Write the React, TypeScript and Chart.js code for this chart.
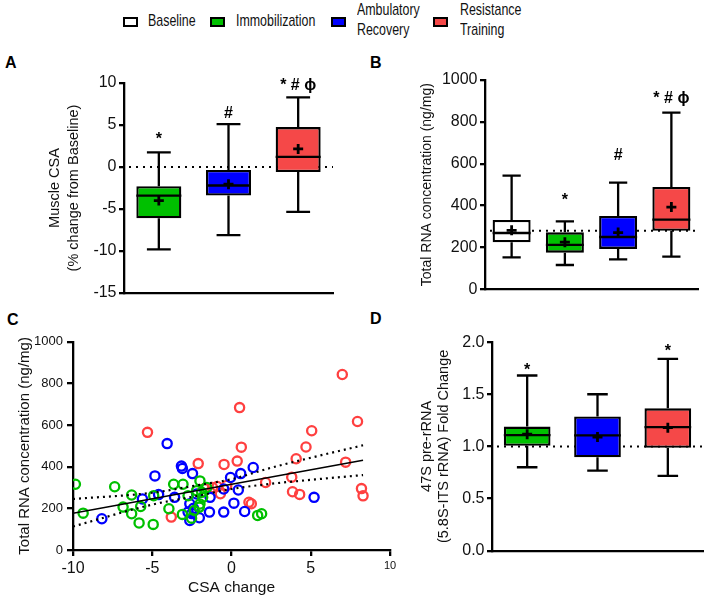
import React, { useEffect, useRef } from "react";
import { Chart, registerables } from "chart.js";
Chart.register(...registerables);

const FONT = "'Liberation Sans', Arial, Helvetica, 'DejaVu Sans', sans-serif";
const INK = "#000";
const TXT = "#111";

// ---------- Panel A: Muscle CSA (% change from Baseline)
const groupsA = ["Immobilization", "Ambulatory Recovery", "Resistance Training"];
const colorsA = ["#00C000", "#0000FF", "#F54848"];
const aMin = [-9.8, -8.1, -5.35];
const aQ1 = [-6.1, -3.4, -0.6];
const aMed = [-3.4, -2.2, 1.2];
const aQ3 = [-2.3, -0.35, 4.75];
const aMax = [1.75, 5.1, 8.3];
const aMean = [-4.0, -2.05, 2.15];
const aMarks = ["*", "#", "* # \u03D5"];
const aMarkY = [3.7, 6.6, 9.75];
const aRef = 0;

// ---------- Panel B: Total RNA concentration (ng/mg)
const groupsB = ["Baseline", "Immobilization", "Ambulatory Recovery", "Resistance Training"];
const colorsB = ["#FFFFFF", "#00C000", "#0000FF", "#F54848"];
const bMin = [153, 116, 143, 156];
const bQ1 = [225, 175, 193, 280];
const bMed = [269, 212, 250, 333];
const bQ3 = [331, 272, 350, 489];
const bMax = [543, 325, 510, 844];
const bMean = [282, 225, 271, 393];
const bMarks = ["", "*", "#", "* # \u03D5"];
const bMarkY = [0, 442, 646, 912];
const bRef = 280;

// ---------- Panel D: 47S pre-rRNA fold change
const groupsD = ["Immobilization", "Ambulatory Recovery", "Resistance Training"];
const colorsD = ["#00C000", "#0000FF", "#F54848"];
const dMin = [0.8, 0.768, 0.717];
const dQ1 = [1.006, 0.895, 0.987];
const dMed = [1.108, 1.105, 1.184];
const dQ3 = [1.19, 1.286, 1.365];
const dMax = [1.68, 1.5, 1.84];
const dMean = [1.117, 1.09, 1.18];
const dMarks = ["*", "", "*"];
const dMarkY = [1.764, 0, 1.947];
const dRef = 1.0;

// ---------- Panel C: scatter, CSA change vs total RNA
const redX = [-5.3, 0.51, 0.62, 0.36, -0.47, -2.1, 6.99, 7.95, 5.06, 4.7, 4.08, 3.8, 7.2, 3.85, 4.3, 2.15, 1.1, 1.25, 8.2, 8.3, -3.8, -0.7, -1.2, -0.3, -1.7, -0.9];
const redY = [565, 684, 494, 427, 411, 415, 843, 617, 573, 495, 438, 350, 422, 280, 267, 324, 229, 222, 295, 260, 158, 270, 300, 310, 295, 305];
const blueX = [-8.18, -4.06, -3.16, -3.1, -2.46, -4.83, -4.6, -5.62, -3.59, -2.63, -2.74, -2.63, -2.03, -1.39, -0.49, 0.83, 0.15, -0.49, -0.06, 0.58, 0.43, 1.37, 5.21, -1.35, -2.2, -2.4, -2.5];
const blueY = [150, 511, 403, 392, 367, 356, 266, 245, 253, 222, 182, 142, 155, 182, 182, 185, 225, 293, 348, 367, 288, 396, 253, 253, 269, 200, 175];
const greenX = [-9.85, -9.36, -7.37, -6.84, -6.3, -6.3, -5.83, -5.73, -4.94, -4.91, -3.95, -3.65, -3.06, -3.1, -2.52, -1.99, -1.88, -1.99, -2.03, -1.82, -1.56, -2.35, 1.65, 1.9, -2.74, -2.2];
const greenY = [316, 177, 304, 206, 264, 174, 130, 209, 123, 261, 198, 316, 316, 171, 153, 332, 277, 221, 206, 253, 300, 190, 166, 174, 261, 285];
const fitX = [-10, 8.3];
const fitY = [177, 431];
const ciX = [-10, -5, -2, 0, 2.5, 5, 8.3];
const ciUpper = [245, 275, 313, 340, 395, 443, 503];
const ciLower = [113, 218, 262, 293, 318, 337, 360];

type BoxP = {
  labels: string[]; colors: string[];
  min: number[]; q1: number[]; med: number[]; q3: number[]; max: number[]; mean: number[];
  marks: string[]; markY: number[]; ref: number; capFrac: number;
};

function makeBoxPlugin(p: BoxP) {
  return {
    id: "boxExtra",
    beforeDatasetsDraw(chart: any) {
      const { ctx, chartArea } = chart;
      const y = chart.scales.y.getPixelForValue(p.ref);
      ctx.save();
      ctx.strokeStyle = INK;
      ctx.lineWidth = 2;
      ctx.setLineDash([2, 5]);
      ctx.beginPath();
      ctx.moveTo(chartArea.left + 5, y);
      ctx.lineTo(chartArea.right, y);
      ctx.stroke();
      ctx.restore();
    },
    afterDatasetsDraw(chart: any) {
      const { ctx } = chart;
      const xs = chart.scales.x;
      const ys = chart.scales.y;
      const meta = chart.getDatasetMeta(0);
      const py = (v: number) => ys.getPixelForValue(v);
      ctx.save();
      ctx.strokeStyle = INK;
      ctx.fillStyle = INK;
      p.labels.forEach((_, i) => {
        const x = xs.getPixelForValue(i);
        const w = meta.data[i].width;
        const cap = (w * p.capFrac) / 2;
        ctx.setLineDash([]);
        ctx.lineWidth = 2.3;
        ctx.beginPath();
        ctx.moveTo(x, py(p.q3[i]));
        ctx.lineTo(x, py(p.max[i]));
        ctx.moveTo(x - cap, py(p.max[i]));
        ctx.lineTo(x + cap, py(p.max[i]));
        ctx.moveTo(x, py(p.q1[i]));
        ctx.lineTo(x, py(p.min[i]));
        ctx.moveTo(x - cap, py(p.min[i]));
        ctx.lineTo(x + cap, py(p.min[i]));
        ctx.moveTo(x - w / 2, py(p.med[i]));
        ctx.lineTo(x + w / 2, py(p.med[i]));
        ctx.stroke();
        const my = py(p.mean[i]);
        ctx.lineWidth = 2.8;
        ctx.beginPath();
        ctx.moveTo(x - 5, my);
        ctx.lineTo(x + 5, my);
        ctx.moveTo(x, my - 5);
        ctx.lineTo(x, my + 5);
        ctx.stroke();
        const t = p.marks[i];
        if (t) {
          ctx.font = `bold 16px ${FONT}`;
          ctx.textAlign = "center";
          ctx.textBaseline = "alphabetic";
          const m = ctx.measureText(t);
          const yc = py(p.markY[i]);
          const base = yc + (m.actualBoundingBoxAscent - m.actualBoundingBoxDescent) / 2;
          ctx.fillText(t, x, base);
        }
      });
      ctx.restore();
    },
  };
}

type BoxLayout = {
  yMin: number; yMax: number; step: number; yWidth: number; xHeight: number;
  padTop: number; padRight: number; barPct: number;
  title: string | string[]; titleSize: number; titleLH: number; titlePad: number;
  fmt?: (v: number) => string;
};

function boxConfig(p: BoxP, L: BoxLayout): any {
  return {
    type: "bar",
    data: {
      labels: p.labels,
      datasets: [
        {
          data: p.labels.map((_, i) => [p.q1[i], p.q3[i]]),
          backgroundColor: p.colors,
          borderColor: INK,
          borderWidth: 2.3,
          borderSkipped: false,
          barPercentage: L.barPct,
          categoryPercentage: 1,
        },
      ],
    },
    options: {
      responsive: false,
      animation: false,
      events: [],
      layout: { padding: { top: L.padTop, right: L.padRight, left: 0, bottom: 0 } },
      plugins: { legend: { display: false }, tooltip: { enabled: false } },
      scales: {
        x: {
          type: "category",
          offset: true,
          ticks: { display: false },
          grid: { display: false },
          border: { display: true, color: INK, width: 2.3 },
          afterFit: (s: any) => { s.height = L.xHeight; },
        },
        y: {
          min: L.yMin,
          max: L.yMax,
          ticks: {
            stepSize: L.step,
            color: TXT,
            padding: 2.5,
            font: { family: FONT, size: 16 },
            callback: (v: any) => (L.fmt ? L.fmt(Number(v)) : String(v)),
          },
          grid: { display: true, drawOnChartArea: false, drawTicks: true, tickLength: 5, lineWidth: 2.3, color: INK },
          border: { display: true, color: INK, width: 2.3 },
          title: {
            display: true,
            text: L.title,
            color: TXT,
            font: { family: FONT, size: L.titleSize, lineHeight: L.titleLH },
            padding: { top: L.titlePad, bottom: 0 },
          },
          afterFit: (s: any) => { s.width = L.yWidth; },
        },
      },
    },
    plugins: [makeBoxPlugin(p)],
  };
}

function scatterConfig(): any {
  const pts = (xs: number[], ys: number[]) => xs.map((x, i) => ({ x, y: ys[i] }));
  const circ = (color: string, data: any[]) => ({
    data,
    showLine: false,
    pointStyle: "circle",
    pointRadius: 4.6,
    pointBorderWidth: 2.3,
    pointBackgroundColor: "rgba(0,0,0,0)",
    pointBorderColor: color,
    borderColor: color,
  });
  const line = (data: any[], dash: number[], width: number) => ({
    data,
    showLine: true,
    pointRadius: 0,
    borderColor: INK,
    borderWidth: width,
    borderDash: dash,
    tension: 0.4,
    cubicInterpolationMode: "monotone",
    fill: false,
  });
  return {
    type: "scatter",
    data: {
      datasets: [
        line(pts(fitX, fitY), [], 1.5),
        line(pts(ciX, ciUpper), [2, 4], 2.2),
        line(pts(ciX, ciLower), [2, 4], 2.2),
        circ("#00C000", pts(greenX, greenY)),
        circ("#0000FF", pts(blueX, blueY)),
        circ("#FF4040", pts(redX, redY)),
      ],
    },
    options: {
      responsive: false,
      animation: false,
      events: [],
      layout: { padding: { top: 9, right: 10, left: 0, bottom: 0 } },
      plugins: { legend: { display: false }, tooltip: { enabled: false } },
      scales: {
        x: {
          type: "linear",
          min: -10,
          max: 10,
          ticks: {
            stepSize: 5,
            color: TXT,
            padding: 3,
            callback: (v: any) => String(v),
            font: (c: any) => ({ family: FONT, size: c.tick && c.tick.value === 10 ? 11 : 16 }),
          },
          grid: { display: true, drawOnChartArea: false, drawTicks: true, tickLength: 6, lineWidth: 2.3, color: INK },
          border: { display: true, color: INK, width: 2.3 },
          title: {
            display: true,
            text: "CSA change",
            color: TXT,
            font: { family: FONT, size: 15.5, lineHeight: 1.2 },
            padding: { top: 0, bottom: 3 },
          },
          afterFit: (s: any) => { s.height = 50; },
        },
        y: {
          min: 0,
          max: 1000,
          ticks: { stepSize: 200, color: TXT, padding: 4, callback: (v: any) => String(v), font: { family: FONT, size: 13 } },
          grid: { display: true, drawOnChartArea: false, drawTicks: true, tickLength: 6, lineWidth: 2.3, color: INK },
          border: { display: true, color: INK, width: 2.3 },
          title: {
            display: true,
            text: "Total RNA concentration (ng/mg)",
            color: TXT,
            font: { family: FONT, size: 15, lineHeight: 1.2 },
            padding: { top: 16, bottom: 0 },
          },
          afterFit: (s: any) => { s.width = 73; },
        },
      },
    },
  };
}

function ChartBox(props: { left: number; top: number; width: number; height: number; make: () => any }) {
  const ref = useRef<HTMLCanvasElement>(null);
  useEffect(() => {
    const chart = new Chart(ref.current as HTMLCanvasElement, props.make());
    return () => chart.destroy();
  }, []);
  return (
    <canvas
      ref={ref}
      width={props.width}
      height={props.height}
      style={{ position: "absolute", left: props.left, top: props.top, width: props.width, height: props.height }}
    />
  );
}

const legendText: React.CSSProperties = {
  position: "absolute",
  fontFamily: FONT,
  fontSize: 17,
  lineHeight: "19.5px",
  color: TXT,
  transform: "scaleX(0.73)",
  transformOrigin: "left top",
  whiteSpace: "nowrap",
};

function Swatch(props: { left: number; color: string }) {
  return (
    <div
      style={{
        position: "absolute",
        left: props.left,
        top: 17,
        width: 15,
        height: 10,
        boxSizing: "border-box",
        border: "2px solid #000",
        background: props.color,
      }}
    />
  );
}

const letter = (t: string, left: number, top: number) => (
  <div
    style={{ position: "absolute", left, top, fontFamily: FONT, fontWeight: "bold", fontSize: 16, lineHeight: "18px", color: INK }}
  >
    {t}
  </div>
);

export default function App() {
  const pA: BoxP = { labels: groupsA, colors: colorsA, min: aMin, q1: aQ1, med: aMed, q3: aQ3, max: aMax, mean: aMean, marks: aMarks, markY: aMarkY, ref: aRef, capFrac: 0.53 };
  const pB: BoxP = { labels: groupsB, colors: colorsB, min: bMin, q1: bQ1, med: bMed, q3: bQ3, max: bMax, mean: bMean, marks: bMarks, markY: bMarkY, ref: bRef, capFrac: 0.48 };
  const pD: BoxP = { labels: groupsD, colors: colorsD, min: dMin, q1: dQ1, med: dMed, q3: dQ3, max: dMax, mean: dMean, marks: dMarks, markY: dMarkY, ref: dRef, capFrac: 0.44 };
  return (
    <div style={{ position: "absolute", left: 0, top: 0, width: 709, height: 600, background: "#fff", overflow: "hidden" }}>
      <Swatch left={123} color="#FFFFFF" />
      <div style={{ ...legendText, left: 148, top: 11 }}>Baseline</div>
      <Swatch left={210} color="#00C000" />
      <div style={{ ...legendText, left: 236, top: 11 }}>Immobilization</div>
      <Swatch left={331} color="#0000FF" />
      <div style={{ ...legendText, left: 357, top: 0 }}>Ambulatory<br />Recovery</div>
      <Swatch left={433} color="#F54848" />
      <div style={{ ...legendText, left: 460, top: 0 }}>Resistance<br />Training</div>

      {letter("A", 5, 54)}
      {letter("B", 370, 54)}
      {letter("C", 7, 311)}
      {letter("D", 370, 310)}

      <ChartBox
        left={0} top={55} width={350} height={260}
        make={() => boxConfig(pA, { yMin: -15, yMax: 10, step: 5, yWidth: 124, xHeight: 22, padTop: 28, padRight: 17, barPct: 0.646, title: ["Muscle CSA", "(% change from Baseline)"], titleSize: 14.5, titleLH: 1.3, titlePad: 45.5 })}
      />
      <ChartBox
        left={355} top={55} width={354} height={260}
        make={() => boxConfig(pB, { yMin: 0, yMax: 1000, step: 200, yWidth: 130, xHeight: 25.7, padTop: 25, padRight: 11, barPct: 0.714, title: "Total RNA concentration (ng/mg)", titleSize: 14, titleLH: 1.2, titlePad: 63.6 })}
      />
      <ChartBox left={0} top={330} width={400} height={270} make={scatterConfig} />
      <ChartBox
        left={355} top={330} width={354} height={270}
        make={() => boxConfig(pD, { yMin: 0, yMax: 2, step: 0.5, yWidth: 137, xHeight: 49.3, padTop: 10.7, padRight: 6, barPct: 0.664, title: ["47S pre-rRNA", "(5.8S-ITS rRNA) Fold Change"], titleSize: 14.5, titleLH: 1.15, titlePad: 63.6, fmt: (v) => v.toFixed(1) })}
      />
    </div>
  );
}
